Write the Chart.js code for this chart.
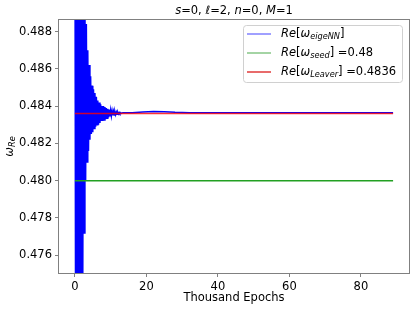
<!DOCTYPE html>
<html>
<head>
<meta charset="utf-8">
<script src="https://cdn.jsdelivr.net/npm/chart.js@4.4.1/dist/chart.umd.min.js"></script>
<style>
  html, body { margin: 0; padding: 0; background: #fff; }
  #wrap { width: 414px; height: 311px; position: relative; }
</style>
</head>
<body>
<div id="wrap"><canvas id="chart"></canvas></div>
<script>
"use strict";

// thousand epochs / Re[omega]
const epochs = [
  0.0, 0.2, 0.4, 0.6, 0.8, 1.0, 1.2, 1.4, 1.6, 1.8,
  2.0, 2.2, 2.4, 2.6, 2.8, 3.0, 3.2, 3.4, 3.6, 3.8,
  4.0, 4.2, 4.4, 4.6, 4.8, 5.0, 5.2, 5.4, 5.6, 5.8,
  6.0, 6.2, 6.4, 6.6, 6.8, 7.0, 7.2, 7.4, 7.6, 7.8,
  8.0, 8.2, 8.4, 8.6, 8.8, 9.0, 9.2, 9.4, 9.6, 9.8,
  10.0, 10.2, 10.4, 10.6, 10.8, 11.0, 11.2, 11.4, 11.6, 11.8,
  12.0, 12.2, 12.4, 12.6, 12.8, 13.0, 13.4,
  16, 19, 22, 25, 28, 32, 40, 50, 60, 70, 80, 89,
];
const omegaNN = [
  0.4960, 0.4700, 0.4970, 0.4690, 0.4950, 0.4710, 0.4940, 0.4720, 0.4930, 0.4730,
  0.4920, 0.4745, 0.4910, 0.4772, 0.4900, 0.4800, 0.4884, 0.4810, 0.4870, 0.4816,
  0.4862, 0.4822, 0.4856, 0.4825, 0.4851, 0.4826, 0.4849, 0.4828, 0.4847, 0.4829,
  0.4845, 0.4830, 0.4843, 0.4830, 0.4842, 0.4831, 0.4841, 0.4832, 0.4840, 0.4832,
  0.48400, 0.48325, 0.48395, 0.48330, 0.48390, 0.48335, 0.48385, 0.48340, 0.48382, 0.48345,
  0.48378, 0.48348, 0.48375, 0.48350, 0.48372, 0.48352, 0.48370, 0.48354, 0.48368, 0.48356,
  0.48367, 0.48358, 0.48366, 0.48360, 0.48365, 0.48361, 0.48365,
  0.48365, 0.48368, 0.48371, 0.48370, 0.48367, 0.48365, 0.48365, 0.48364, 0.48365, 0.48365, 0.48365, 0.48365,
];
const seedValue = 0.48;
const leaverValue = 0.4836;
const refSpan = [0, 89];

const xTicks = [0, 20, 40, 60, 80];
const yTicks = [0.476, 0.478, 0.480, 0.482, 0.484, 0.486, 0.488];

const FONT = '"DejaVu Sans", sans-serif';
const GREY = "#808080";

const $ = (id) => document.getElementById(id);

// draw a run of mixed italic/normal pieces; returns width
function richWidth(ctx, parts) {
  let w = 0;
  for (const p of parts) {
    ctx.font = `${p.i ? "italic " : ""}${p.size}px ${FONT}`;
    w += ctx.measureText(p.t).width;
  }
  return w;
}
function richDraw(ctx, parts, x, y) {
  ctx.textBaseline = "middle";
  ctx.textAlign = "left";
  for (const p of parts) {
    ctx.font = `${p.i ? "italic " : ""}${p.size}px ${FONT}`;
    ctx.fillText(p.t, x, y + (p.dy || 0));
    x += ctx.measureText(p.t).width;
  }
}

const S = 11.5, SUB = 8.2;
const omegaLabel = (sub, tail) => [
  { t: "Re", i: true, size: S }, { t: "[", size: S }, { t: "ω", i: true, size: S },
  { t: sub, i: true, size: SUB, dy: 3 }, { t: "]" + tail, size: S },
];
const legendItems = [
  { color: "#8080ff", parts: omegaLabel("eigeNN", "") },
  { color: "#86c686", parts: omegaLabel("seed", " =0.48") },
  { color: "#e03a3a", parts: omegaLabel("Leaver", " =0.4836") },
];
const titleParts = [
  { t: "s", i: true, size: S }, { t: "=0, ", size: S },
  { t: "ℓ", i: true, size: S }, { t: "=2, ", size: S },
  { t: "n", i: true, size: S }, { t: "=0, ", size: S },
  { t: "M", i: true, size: S }, { t: "=1", size: S },
];

const decor = {
  id: "decor",
  afterDraw(chart) {
    const { ctx, chartArea: a } = chart;
    ctx.save();
    // frame
    ctx.strokeStyle = GREY;
    ctx.lineWidth = 1;
    ctx.strokeRect(Math.round(a.left) - 0.5, Math.round(a.top) - 0.5,
      Math.round(a.right - a.left) + 1, Math.round(a.bottom - a.top) + 1);

    ctx.fillStyle = "#000";
    const cx = (a.left + a.right) / 2;
    richDraw(ctx, titleParts, cx - richWidth(ctx, titleParts) / 2, 11);

    ctx.font = `${S}px ${FONT}`;
    ctx.textAlign = "center";
    ctx.textBaseline = "middle";
    ctx.fillText("Thousand Epochs", cx, 298);

    // y label
    const yl = [{ t: "ω", i: true, size: S }, { t: "Re", i: true, size: SUB, dy: 3 }];
    ctx.save();
    ctx.translate(10, (a.top + a.bottom) / 2);
    ctx.rotate(-Math.PI / 2);
    richDraw(ctx, yl, -richWidth(ctx, yl) / 2, 0);
    ctx.restore();

    // legend
    const lx = 243, ly = 25, lw = 159, lh = 57;
    ctx.beginPath();
    ctx.roundRect(lx + 0.5, ly + 0.5, lw, lh, 3);
    ctx.fillStyle = "rgba(255,255,255,0.85)";
    ctx.fill();
    ctx.strokeStyle = "#d0d0d0";
    ctx.stroke();
    legendItems.forEach((it, k) => {
      const y = 34 + k * 19;
      ctx.strokeStyle = it.color;
      ctx.lineWidth = 1.5;
      ctx.beginPath();
      ctx.moveTo(247, y);
      ctx.lineTo(271, y);
      ctx.stroke();
      ctx.fillStyle = "#000";
      richDraw(ctx, it.parts, 281, y);
    });
    ctx.restore();
  },
};

const axisCommon = {
  type: "linear",
  grid: { drawOnChartArea: false, drawTicks: true, tickLength: 4, color: GREY, tickWidth: 1 },
  border: { display: false },
  ticks: { color: "#000", font: { family: FONT, size: S }, padding: 3, autoSkip: false, maxRotation: 0 },
};

new Chart($("chart"), {
  type: "line",
  data: {
    datasets: [
      {
        data: epochs.map((x, i) => ({ x, y: omegaNN[i] })),
        borderColor: "#0000ff", borderWidth: 1.5, pointRadius: 0, tension: 0, clip: 0, order: 3,
      },
      {
        data: refSpan.map((x) => ({ x, y: seedValue })),
        borderColor: "#22a022", borderWidth: 1.5, pointRadius: 0, order: 2,
      },
      {
        data: refSpan.map((x) => ({ x, y: leaverValue })),
        borderColor: "rgba(255,0,0,0.8)", borderWidth: 1.5, pointRadius: 0, order: 1,
      },
    ],
  },
  options: {
    responsive: true,
    maintainAspectRatio: false,
    animation: false,
    events: [],
    layout: { padding: { top: 20, right: 5, left: 0, bottom: 0 } },
    plugins: { legend: { display: false }, tooltip: { enabled: false } },
    scales: {
      x: {
        ...axisCommon,
        min: -4.45, max: 93.45,
        afterBuildTicks: (s) => { s.ticks = xTicks.map((value) => ({ value })); },
        afterFit: (s) => { s.height = 38; },
        ticks: { ...axisCommon.ticks, callback: (v) => String(v) },
      },
      y: {
        ...axisCommon,
        min: 0.47505, max: 0.48862,
        afterBuildTicks: (s) => { s.ticks = yTicks.map((value) => ({ value })); },
        afterFit: (s) => { s.width = 59; },
        ticks: { ...axisCommon.ticks, callback: (v) => v.toFixed(3) },
      },
    },
  },
  plugins: [decor],
});
</script>
</body>
</html>
